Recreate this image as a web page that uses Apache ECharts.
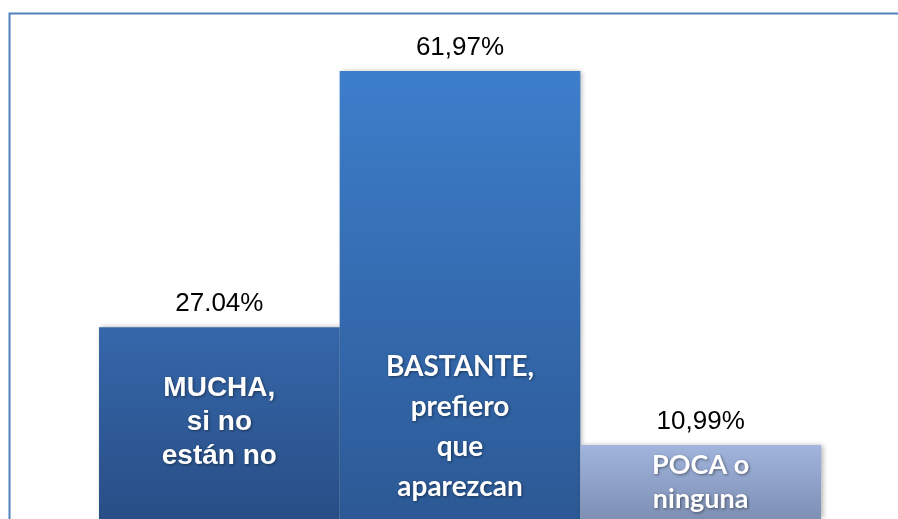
<!DOCTYPE html>
<html>
<head>
<meta charset="utf-8">
<script src="https://cdn.jsdelivr.net/npm/echarts@6/dist/echarts.min.js"></script>
<style>
  html, body { margin: 0; padding: 0; background: #fff; }
  #chart { width: 898px; height: 519px; }
</style>
</head>
<body>
<div id="chart"></div>
<script>
// Data
const categories = ['MUCHA,\nsi no\nestán no', 'BASTANTE,\nprefiero\nque\naparezcan', 'POCA o\nninguna'];
const values = [27.04, 61.97, 10.99];
const valueLabels = ['27.04%', '61,97%', '10,99%'];

// Styling per bar (not data)
const barGradients = [
  ['#3567aa', '#294e86'],
  ['#3d7ecb', '#2c5995'],
  ['#a1b5dd', '#7e8fb4']
];
const innerLabelStyles = [
  { fontFamily: 'Liberation Sans, Arial', fontSize: 28, lineHeight: 34, offsetTop: 44 },
  { fontFamily: 'Lato, Open Sans', fontSize: 28, lineHeight: 40, offsetTop: 276 },
  { fontFamily: 'Lato, Open Sans', fontSize: 27, lineHeight: 34, offsetTop: 3 }
];

const chart = echarts.init(document.getElementById('chart'));

const mainData = values.map((v, i) => ({
  value: v,
  itemStyle: {
    color: new echarts.graphic.LinearGradient(0, 0, 0, 1, [
      { offset: 0, color: barGradients[i][0] },
      { offset: 1, color: barGradients[i][1] }
    ])
  }
}));

const textData = values.map((v, i) => {
  const s = innerLabelStyles[i];
  return {
    value: v,
    label: {
      fontFamily: s.fontFamily,
      fontSize: s.fontSize,
      lineHeight: s.lineHeight,
      position: ['50%', s.offsetTop]
    }
  };
});

const option = {
  animation: false,
  // the bars' zero line sits a few pixels below the picture, so the axis starts a bit above 0
  grid: { left: 99, right: 77, top: 12, bottom: 0 },
  xAxis: {
    type: 'category',
    data: categories,
    show: false
  },
  yAxis: {
    type: 'value',
    min: 0.886,
    max: 70,
    show: false
  },
  graphic: [{
    type: 'rect',
    shape: { x: 9.5, y: 13.5, width: 1000, height: 600 },
    style: { fill: 'none', stroke: '#4f81bd', lineWidth: 2 },
    z: 100
  }],
  series: [
    {
      type: 'bar',
      data: mainData,
      barCategoryGap: 0,
      itemStyle: {
        shadowBlur: 5,
        shadowColor: 'rgba(0,0,0,0.3)',
        shadowOffsetX: 2
      },
      label: {
        show: true,
        position: 'top',
        distance: 10,
        color: '#000',
        fontFamily: 'Liberation Sans, Arial',
        fontSize: 26,
        formatter: p => valueLabels[p.dataIndex]
      },
      z: 2
    },
    {
      type: 'bar',
      data: textData,
      barGap: '-100%',
      barCategoryGap: 0,
      itemStyle: { color: 'rgba(0,0,0,0)' },
      label: {
        show: true,
        align: 'center',
        verticalAlign: 'top',
        color: '#fff',
        fontWeight: 'bold',
        textShadowColor: 'rgba(0,0,0,0.45)',
        textShadowBlur: 3,
        textShadowOffsetX: 1,
        textShadowOffsetY: 1,
        formatter: p => categories[p.dataIndex]
      },
      z: 3
    }
  ]
};

chart.setOption(option);
</script>
</body>
</html>
